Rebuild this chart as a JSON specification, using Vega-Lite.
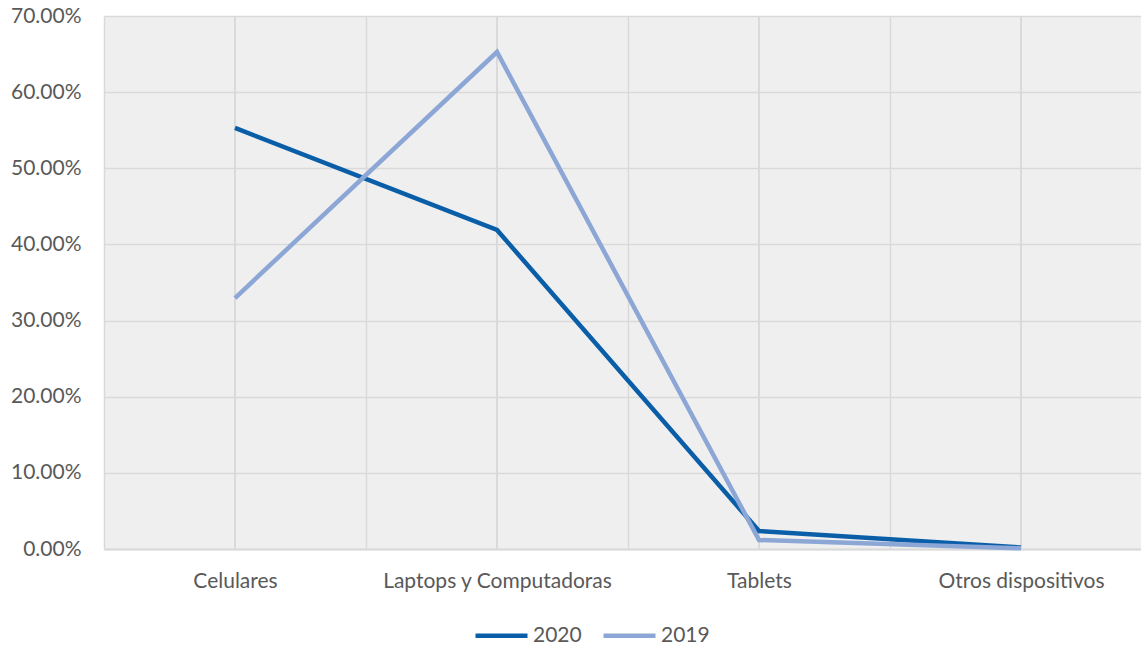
{
  "$schema": "https://vega.github.io/schema/vega-lite/v6.json",
  "autosize": "none",
  "padding": {"left": 104, "top": 16, "right": 0, "bottom": 99},
  "width": 1048,
  "height": 533,
  "background": "white",
  "config": {
    "view": {"fill": "#efefef", "stroke": null},
    "font": "Lato",
    "axis": {"labelFont": "Lato", "labelColor": "#595959", "labelFontSize": 21, "gridColor": "#d9d9d9", "gridWidth": 1.5, "ticks": false, "title": null}
  },
  "data": {
    "values": [
      {"device": "Celulares", "year": "2020", "share": 0.553},
      {"device": "Laptops y Computadoras", "year": "2020", "share": 0.419},
      {"device": "Tablets", "year": "2020", "share": 0.0236},
      {"device": "Otros dispositivos", "year": "2020", "share": 0.002},
      {"device": "Celulares", "year": "2019", "share": 0.3296},
      {"device": "Laptops y Computadoras", "year": "2019", "share": 0.6527},
      {"device": "Tablets", "year": "2019", "share": 0.0118},
      {"device": "Otros dispositivos", "year": "2019", "share": 0.001}
    ]
  },
  "layer": [
    {
      "mark": {"type": "rule", "color": "#d9d9d9", "strokeWidth": 1.5},
      "encoding": {
        "x": {"field": "device", "type": "nominal", "sort": null}
      }
    },
    {
      "mark": {"type": "line", "strokeWidth": 4.5},
      "encoding": {
        "x": {
          "field": "device", "type": "nominal", "sort": null,
          "scale": {"type": "band", "paddingInner": 0, "paddingOuter": 0},
          "axis": {"labelAngle": 0, "labelAlign": "center", "labelLimit": 0, "labelBound": false, "labelFlush": false, "tickBand": "extent", "grid": true, "domain": true, "domainColor": "#d9d9d9", "domainWidth": 2, "labelPadding": 32}
        },
        "y": {
          "field": "share", "type": "quantitative",
          "scale": {"domain": [0, 0.7], "nice": false},
          "axis": {"format": ".2%", "values": [0, 0.1, 0.2, 0.3, 0.4, 0.5, 0.6, 0.7], "domain": false, "grid": true, "labelPadding": 23}
        },
        "color": {
          "field": "year", "type": "nominal",
          "scale": {"domain": ["2020", "2019"], "range": ["#0a5ea8", "#8ca7d6"]},
          "legend": {"orient": "none", "legendX": 369, "legendY": 591, "direction": "horizontal", "title": null, "symbolType": "stroke", "symbolSize": 2704, "symbolStrokeWidth": 4.5, "labelFontSize": 21, "labelColor": "#595959", "labelFont": "Lato", "columnPadding": 12, "labelOffset": 3}
        }
      }
    }
  ]
}
